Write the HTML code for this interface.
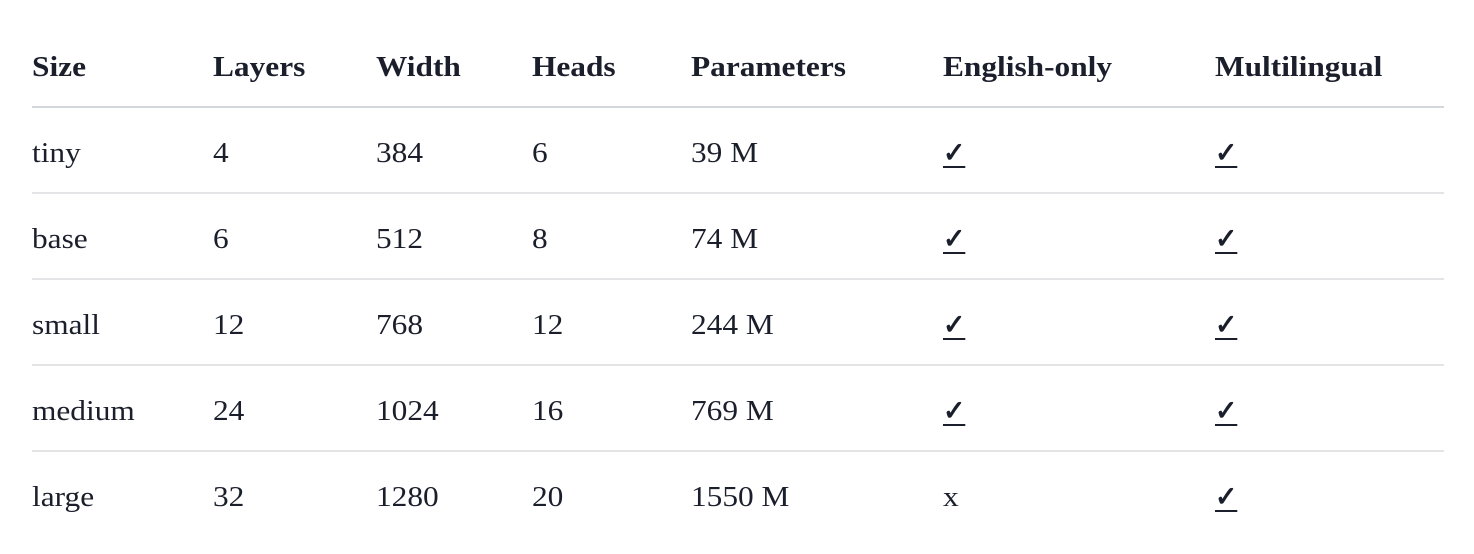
<!DOCTYPE html>
<html><head><meta charset="utf-8"><style>
body{margin:0;width:1474px;height:554px;background:#fff;overflow:hidden;font-family:"Liberation Serif",serif;color:#1b1e2b;position:relative}
.c{position:absolute;font-size:28px;line-height:30px;white-space:nowrap;transform:translateY(-50%) scaleX(1.12);transform-origin:left center}
.h{font-weight:bold}
.l{position:absolute;left:32px;width:1412px;height:2px;background:#e4e4e7}
.ck{text-decoration:underline;text-underline-offset:4px;font-weight:bold;transform:translateY(-50%) scaleX(0.95)}
</style></head><body>
<div id="t"></div>
<script>
const cols=[32,213,376,532,691,943,1215];
const headers=["Size","Layers","Width","Heads","Parameters","English-only","Multilingual"];
const rows=[["tiny","4","384","6","39 M","✓","✓"],["base","6","512","8","74 M","✓","✓"],["small","12","768","12","244 M","✓","✓"],["medium","24","1024","16","769 M","✓","✓"],["large","32","1280","20","1550 M","x","✓"]];
const t=document.getElementById('t');
headers.forEach((h,i)=>{const d=document.createElement('div');d.className='c h';d.style.left=cols[i]+'px';d.style.top='68px';d.textContent=h;


t.appendChild(d);});
const hl=document.createElement('div');hl.className='l';hl.style.top='106px';hl.style.background='#d3d6da';


t.appendChild(hl);
rows.forEach((r,ri)=>{const y=152+ri*86;
r.forEach((v,i)=>{const d=document.createElement('div');d.className='c'+(v==='✓'?' ck':'');d.style.left=cols[i]+'px';d.style.top=(y+2)+'px';d.textContent=v;


t.appendChild(d);});
if(ri<rows.length-1){const l=document.createElement('div');l.className='l';l.style.top=(y+40)+'px';


t.appendChild(l);}
});
</script>
</body></html>
